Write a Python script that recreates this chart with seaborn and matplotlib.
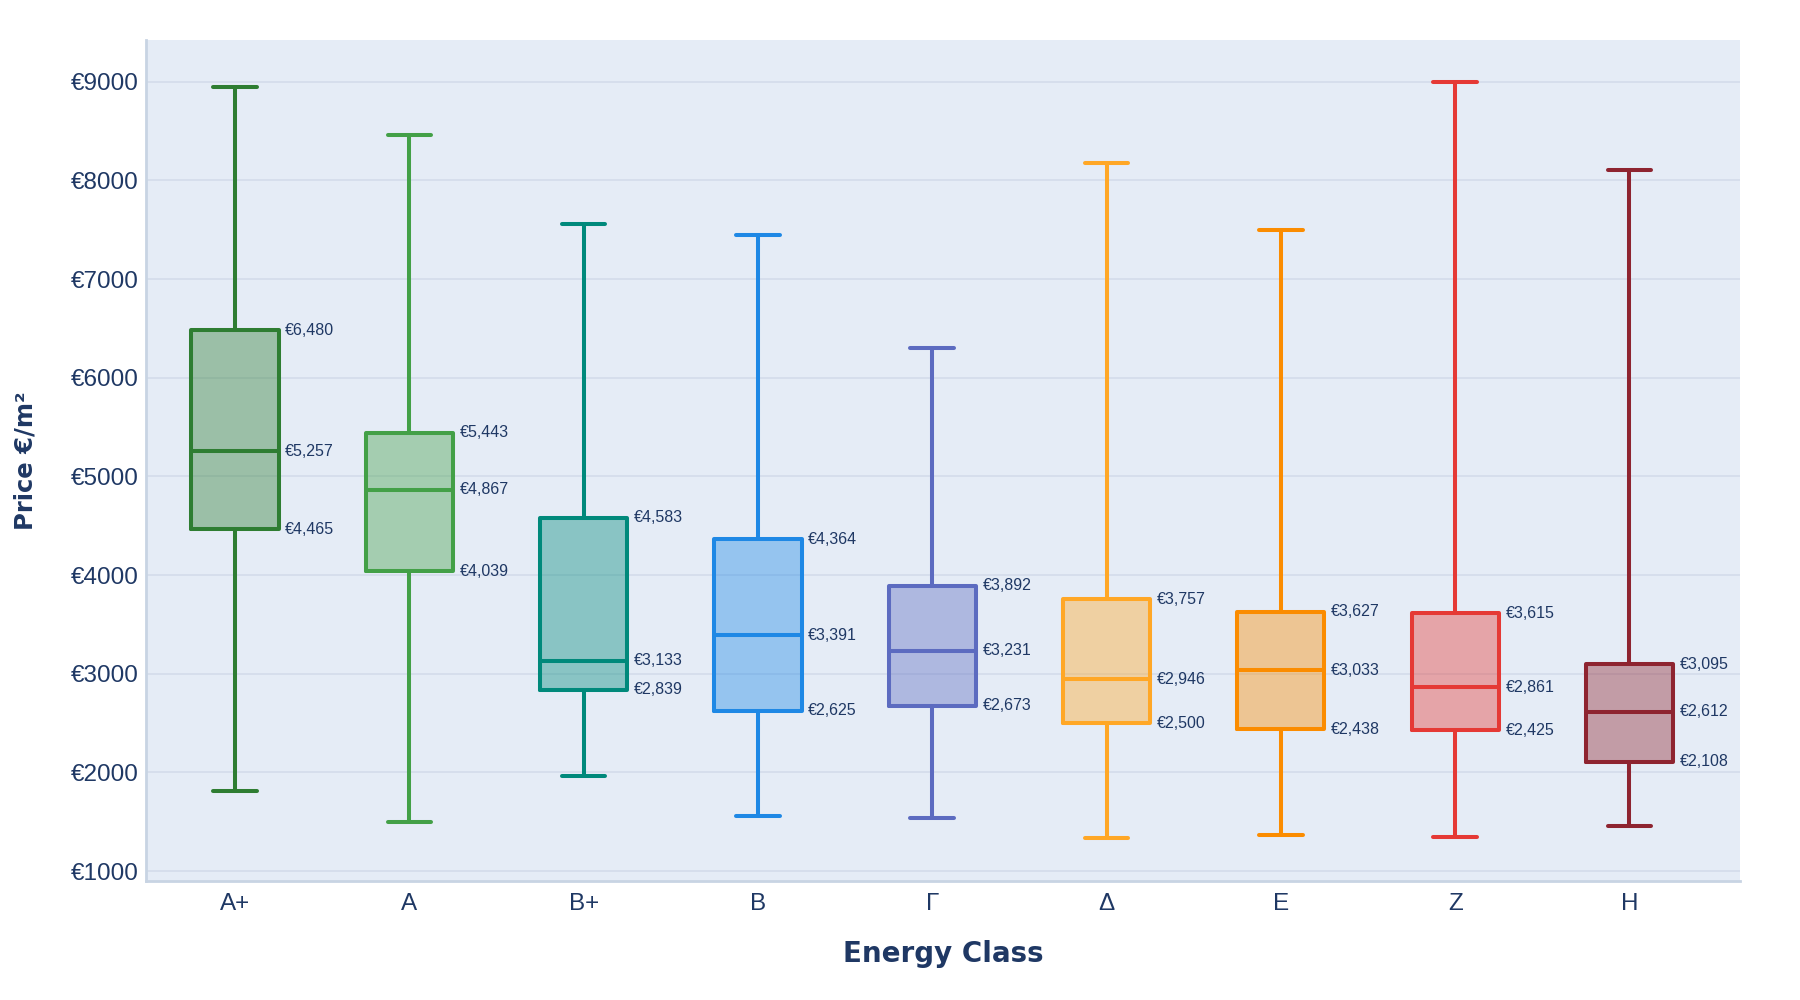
import numpy as np
import pandas as pd
import matplotlib
matplotlib.use("Agg")
import matplotlib.pyplot as plt
import seaborn as sns

# ---- data ----
classes = ["A+", "A", "B+", "B", "Γ", "Δ", "E", "Z", "H"]
lower_whisker = [1815, 1500, 1967, 1560, 1540, 1330, 1362, 1350, 1452]
q1_values = [4465, 4039, 2839, 2625, 2673, 2500, 2438, 2425, 2108]
median_values = [5257, 4867, 3133, 3391, 3231, 2946, 3033, 2861, 2612]
q3_values = [6480, 5443, 4583, 4364, 3892, 3757, 3627, 3615, 3095]
upper_whisker = [8950, 8465, 7558, 7442, 6298, 8175, 7498, 8995, 8103]
colors = ["#2e7d32", "#43a047", "#00897b", "#1e88e5", "#5c6bc0",
          "#ffa726", "#fb8c00", "#e53935", "#8e2430"]
y_ticks = [1000, 2000, 3000, 4000, 5000, 6000, 7000, 8000, 9000]

# five-number points per class -> seaborn reproduces exact quartiles
rows = []
for c, lo, a, m, b, hi in zip(classes, lower_whisker, q1_values, median_values,
                              q3_values, upper_whisker):
    for v in (lo, a, m, b, hi):
        rows.append({"Energy Class": c, "Price": v})
df = pd.DataFrame(rows)

sns.set_style("white")
plt.rcParams["font.family"] = ["Liberation Sans", "DejaVu Sans"]

TXT = "#1f3864"
BG = "#e5ecf6"

fig = plt.figure(figsize=(18, 10), dpi=100)
ax = fig.add_axes([146 / 1800, 1 - 881 / 1000, (1740 - 146) / 1800, (881 - 40) / 1000])
ax.set_facecolor(BG)

common = dict(data=df, x="Energy Class", y="Price", hue="Energy Class",
              order=classes, hue_order=classes, palette=colors,
              width=0.5, whis=(0, 100), legend=False, showfliers=False, ax=ax)

# pass 1: translucent box faces
sns.boxplot(fill=True, saturation=1, linewidth=0, **common)
for patch in ax.patches:
    fc = patch.get_facecolor()
    patch.set_facecolor((fc[0], fc[1], fc[2], 0.4))
    patch.set_edgecolor("none")
    patch.set_zorder(2)
for ln in list(ax.lines):
    ln.remove()

# pass 2: coloured outlines, whiskers, caps and medians
sns.boxplot(fill=False, linewidth=2.9, **common)
for ln in ax.lines:
    ln.set_zorder(3)

# value labels for Q3, median, Q1
for i, c in enumerate(classes):
    for v in (q3_values[i], median_values[i], q1_values[i]):
        ax.text(i + 0.25 + 0.038, v, f"€{v:,}", ha="left", va="center",
                fontsize=11.5, color=TXT, zorder=5)

ax.set_xlim(-0.511, 8.634)
ax.set_ylim(899, 9423)
ax.set_yticks(y_ticks)
ax.set_yticklabels([f"€{t}" for t in y_ticks])
ax.grid(axis="y", color="#d3dcea", linewidth=1.2, zorder=0)
ax.set_axisbelow(True)
ax.tick_params(axis="both", length=0, labelsize=17.5, colors=TXT)
ax.tick_params(axis="y", pad=5)
ax.tick_params(axis="x", pad=9)

for s in ("top", "right"):
    ax.spines[s].set_visible(False)
for s in ("left", "bottom"):
    ax.spines[s].set_color("#c8d4e3")
    ax.spines[s].set_linewidth(2)

ax.set_xlabel("Energy Class", fontsize=20, fontweight="bold", color=TXT,
              family=["DejaVu Sans"], labelpad=18)
ax.set_ylabel("Price €/m²", fontsize=17.5, fontweight="bold", color=TXT,
              family=["DejaVu Sans"], labelpad=24)

fig.savefig("out.png", dpi=100, facecolor="white")
